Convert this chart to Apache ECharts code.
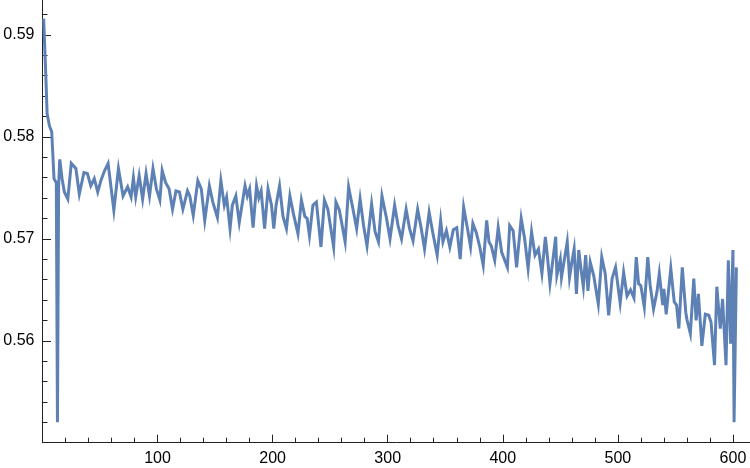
<!DOCTYPE html>
<html>
<head>
<meta charset="utf-8">
<script src="https://cdn.jsdelivr.net/npm/echarts@6.0.0/dist/echarts.min.js"></script>
<style>
  html, body { margin: 0; padding: 0; background: #fff; }
  #chart { width: 750px; height: 468px; }
</style>
</head>
<body>
<div id="chart"></div>
<script>
// sample index
var xValues = [
  1, 3, 4, 6, 8, 10, 12, 13, 14, 15,
  17, 19, 22, 25, 29, 32, 36, 39, 42, 45,
  48, 51, 54, 57, 62, 66, 70, 74, 77, 79,
  81, 84, 87, 90, 93, 96, 99, 102, 104, 107,
  110, 113, 116, 119, 122, 126, 128, 131, 135, 138,
  141, 145, 148, 152, 155, 158, 160, 163, 165, 168,
  171, 176, 178, 180, 183, 186, 188, 190, 193, 196,
  199, 201, 203, 206, 209, 212, 215, 218, 222, 225,
  228, 230, 232, 235, 238, 242, 245, 248, 253, 255,
  258, 263, 266, 270, 273, 276, 279, 282, 286, 289,
  292, 295, 299, 302, 306, 309, 312, 316, 319, 322,
  326, 329, 332, 336, 339, 343, 346, 348, 351, 354,
  357, 360, 363, 366, 369, 372, 374, 377, 380, 383,
  386, 388, 390, 393, 396, 399, 404, 406, 409, 412,
  416, 419, 422, 425, 428, 431, 434, 437, 439, 441,
  446, 447, 450, 451, 456, 458, 460, 462, 464, 466,
  468, 470, 472, 474, 476, 479, 483, 486, 489, 492,
  495, 498, 502, 505, 508, 511, 514, 516, 518, 520,
  523, 526, 528, 531, 534, 536, 539, 540, 542, 546,
  549, 551, 553, 556, 559, 560, 563, 566, 568, 570,
  573, 576, 579, 581, 584, 586, 589, 591, 594, 596,
  598, 600, 601, 603
]
// value at each sample
var yValues = [
  0.5916, 0.5856, 0.5823, 0.5811, 0.5805, 0.5759, 0.5755, 0.5520, 0.5752, 0.5778,
  0.5759, 0.5746, 0.5739, 0.5774, 0.5769, 0.5744, 0.5765, 0.5764, 0.5752, 0.5759,
  0.5746, 0.5758, 0.5767, 0.5774, 0.5728, 0.5769, 0.5742, 0.5751, 0.5741, 0.5760,
  0.5741, 0.5762, 0.5739, 0.5764, 0.5742, 0.5769, 0.5749, 0.5738, 0.5767, 0.5755,
  0.5749, 0.5729, 0.5747, 0.5746, 0.5729, 0.5747, 0.5742, 0.5723, 0.5757, 0.5749,
  0.5718, 0.5752, 0.5736, 0.5721, 0.5757, 0.5733, 0.5741, 0.5710, 0.5733, 0.5742,
  0.5716, 0.5752, 0.5742, 0.5749, 0.5711, 0.5752, 0.5740, 0.5747, 0.5710, 0.5749,
  0.5733, 0.5710, 0.5733, 0.5752, 0.5722, 0.5710, 0.5742, 0.5725, 0.5705, 0.5738,
  0.5722, 0.5720, 0.5703, 0.5733, 0.5736, 0.5692, 0.5738, 0.5729, 0.5692, 0.5736,
  0.5728, 0.5697, 0.5751, 0.5728, 0.5710, 0.5739, 0.5713, 0.5693, 0.5734, 0.5707,
  0.5697, 0.5742, 0.5720, 0.5700, 0.5733, 0.5713, 0.5700, 0.5729, 0.5710, 0.5698,
  0.5729, 0.5711, 0.5690, 0.5726, 0.5707, 0.5684, 0.5718, 0.5697, 0.5708, 0.5692,
  0.5709, 0.5711, 0.5680, 0.5731, 0.5712, 0.5692, 0.5715, 0.5706, 0.5692, 0.5674,
  0.5718, 0.5697, 0.5693, 0.5679, 0.5711, 0.5687, 0.5672, 0.5713, 0.5708, 0.5672,
  0.5720, 0.5700, 0.5671, 0.5707, 0.5684, 0.5690, 0.5666, 0.5702, 0.5680, 0.5656,
  0.5702, 0.5664, 0.5680, 0.5662, 0.5697, 0.5662, 0.5677, 0.5690, 0.5646, 0.5689,
  0.5670, 0.5653, 0.5684, 0.5649, 0.5677, 0.5664, 0.5636, 0.5682, 0.5666, 0.5625,
  0.5661, 0.5672, 0.5637, 0.5667, 0.5644, 0.5650, 0.5642, 0.5682, 0.5656, 0.5654,
  0.5633, 0.5682, 0.5655, 0.5631, 0.5648, 0.5666, 0.5635, 0.5651, 0.5626, 0.5671,
  0.5638, 0.5635, 0.5612, 0.5672, 0.5628, 0.5621, 0.5607, 0.5661, 0.5620, 0.5646,
  0.5595, 0.5626, 0.5625, 0.5618, 0.5576, 0.5653, 0.5612, 0.5641, 0.5576, 0.5679,
  0.5597, 0.5689, 0.5520, 0.5672
]
var xTickLabels = ['100', '200', '300', '400', '500', '600']
var yTickLabels = ['0.56', '0.57', '0.58', '0.59']

var points = []
for (var i = 0; i < xValues.length; i++) {
  points.push([xValues[i], yValues[i]])
}

var axisColor = '#222222'
var labelFont = {
  fontFamily: 'Liberation Sans',
  fontSize: 16,
  color: '#000000'
}

var chart = echarts.init(document.getElementById('chart'))
chart.setOption({
  animation: false,
  grid: {
    left: 42.5,
    // axis ranges run past the picture so the last interval stays whole
    right: -98,
    top: -67,
    bottom: 25.3,
    outerBoundsMode: 'none'
  },
  xAxis: {
    type: 'value',
    min: 0,
    max: 700,
    interval: 100,
    axisLine: { onZero: false, lineStyle: { color: axisColor, width: 1 } },
    axisTick: { inside: true, length: 8, lineStyle: { color: axisColor } },
    minorTick: { show: true, splitNumber: 5, length: 5, lineStyle: { color: axisColor } },
    splitLine: { show: false },
    axisLabel: Object.assign({
      margin: 8,
      formatter: function (v) {
        var s = String(Math.round(v))
        return xTickLabels.indexOf(s) >= 0 ? s : ''
      }
    }, labelFont)
  },
  yAxis: {
    type: 'value',
    min: 0.55,
    max: 0.60,
    interval: 0.01,
    axisLine: { onZero: false, lineStyle: { color: axisColor, width: 1 } },
    axisTick: { inside: true, length: 8.5, lineStyle: { color: axisColor } },
    minorTick: { show: true, splitNumber: 5, length: 5, lineStyle: { color: axisColor } },
    splitLine: { show: false },
    axisLabel: Object.assign({
      margin: 8,
      formatter: function (v) {
        var s = v.toFixed(2)
        return yTickLabels.indexOf(s) >= 0 ? s : ''
      }
    }, labelFont)
  },
  series: [{
    type: 'line',
    data: points,
    showSymbol: false,
    symbol: 'none',
    silent: true,
    lineStyle: { color: '#5E81B5', width: 3, join: 'miter' }
  }]
})
</script>
</body>
</html>
